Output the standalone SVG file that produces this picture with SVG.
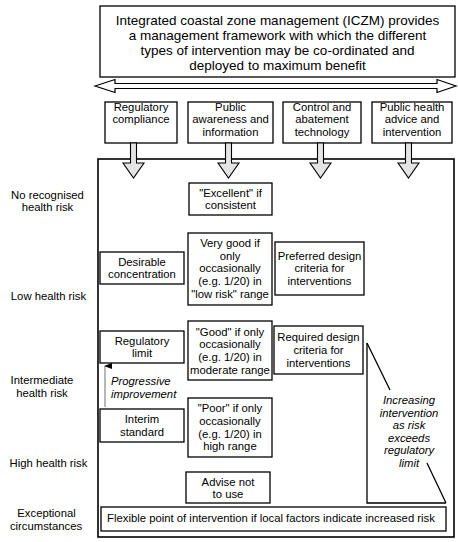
<svg xmlns="http://www.w3.org/2000/svg" width="458" height="542" viewBox="0 0 458 542">
<style>
.bx{fill:#fff;stroke:#000;stroke-width:1.3}
.t{font-family:"Liberation Sans",Arial,sans-serif;font-size:11.3px;fill:#000;text-anchor:middle}
.top{font-size:13.5px}
.it{font-style:italic}
.ha{fill:#e4e4e4;stroke:#000;stroke-width:1.1}
.ln{fill:none;stroke:#000;stroke-width:1.3}
</style>
<defs>
<marker id="ah" markerWidth="6" markerHeight="8" refX="3" refY="1" orient="auto-start-reverse" markerUnits="userSpaceOnUse" viewBox="0 0 6 8">
<path d="M0,8 L3,0 L6,8 Z" fill="#000"/>
</marker>
</defs>
<rect width="458" height="542" fill="#fff"/>

<g id="container"><rect x="98" y="159" width="356" height="378" fill="#fff" stroke="#000" stroke-width="1.6"/></g>

<g id="iczm">
<rect class="bx" x="100" y="6" width="355" height="71" stroke-width="1.5"/>
<text class="t top" x="277.5" y="25.4">Integrated coastal zone management (ICZM) provides</text>
<text class="t top" x="277.5" y="40.2">a management framework with which the different</text>
<text class="t top" x="277.5" y="54.9">types of intervention may be co-ordinated and</text>
<text class="t top" x="277.5" y="69.7">deployed to maximum benefit</text>
</g>

<g id="col-regulatory">
<rect class="bx" x="105" y="102" width="72" height="41"/>
<text class="t" x="141" y="110.7">Regulatory</text>
<text class="t" x="141" y="123.3">compliance</text>
</g>
<g id="col-public">
<rect class="bx" x="188" y="102" width="85" height="41"/>
<text class="t" x="230.5" y="110.7">Public</text>
<text class="t" x="230.5" y="123.3">awareness and</text>
<text class="t" x="230.5" y="136">information</text>
</g>
<g id="col-control">
<rect class="bx" x="283" y="102" width="78" height="41"/>
<text class="t" x="322" y="110.7">Control and</text>
<text class="t" x="322" y="123.3">abatement</text>
<text class="t" x="322" y="136">technology</text>
</g>
<g id="col-health">
<rect class="bx" x="372" y="102" width="80" height="41"/>
<text class="t" x="412" y="110.7">Public health</text>
<text class="t" x="412" y="123.3">advice and</text>
<text class="t" x="412" y="136">intervention</text>
</g>

<g id="risk-labels">
<text class="t" x="47.5" y="199">No recognised</text>
<text class="t" x="47.5" y="211">health risk</text>
<text class="t" x="48.5" y="300">Low health risk</text>
<text class="t" x="42" y="384">Intermediate</text>
<text class="t" x="42" y="396.5">health risk</text>
<text class="t" x="48.5" y="467">High health risk</text>
<text class="t" x="46.5" y="517">Exceptional</text>
<text class="t" x="46" y="530">circumstances</text>
</g>

<g id="excellent">
<rect class="bx" x="189" y="183" width="83" height="32"/>
<text class="t" x="230.5" y="197.3">"Excellent" if</text>
<text class="t" x="230.5" y="209">consistent</text>
</g>
<g id="very-good">
<rect class="bx" x="188" y="233" width="84" height="72"/>
<text class="t" x="230" y="246.7">Very good if</text>
<text class="t" x="230" y="259.5">only</text>
<text class="t" x="230" y="272.2">occasionally</text>
<text class="t" x="230" y="284.9">(e.g. 1/20) in</text>
<text class="t" x="230" y="297.6">"low risk" range</text>
</g>
<g id="desirable">
<rect class="bx" x="100" y="252" width="84" height="32"/>
<text class="t" x="142" y="265.7">Desirable</text>
<text class="t" x="142" y="278.3">concentration</text>
</g>
<g id="preferred">
<rect class="bx" x="275" y="242" width="89" height="53"/>
<text class="t" x="319.5" y="259.7">Preferred design</text>
<text class="t" x="319.5" y="272.4">criteria for</text>
<text class="t" x="319.5" y="285">interventions</text>
</g>
<g id="regulatory-limit">
<rect class="bx" x="100" y="331" width="84" height="32"/>
<text class="t" x="142" y="345">Regulatory</text>
<text class="t" x="142" y="357">limit</text>
</g>
<g id="good">
<rect class="bx" x="188" y="321" width="84" height="59"/>
<text class="t" x="230" y="335.7">"Good" if only</text>
<text class="t" x="230" y="348.4">occasionally</text>
<text class="t" x="230" y="361.1">(e.g. 1/20) in</text>
<text class="t" x="230" y="373.8">moderate range</text>
</g>
<g id="required">
<rect class="bx" x="274" y="326" width="89" height="48"/>
<text class="t" x="318.5" y="341.3">Required design</text>
<text class="t" x="318.5" y="354">criteria for</text>
<text class="t" x="318.5" y="366.7">interventions</text>
</g>
<g id="interim">
<rect class="bx" x="100" y="409" width="84" height="33"/>
<text class="t" x="142" y="423">Interim</text>
<text class="t" x="142" y="435.7">standard</text>
</g>
<g id="poor">
<rect class="bx" x="188" y="398" width="84" height="59"/>
<text class="t" x="230" y="412.3">"Poor" if only</text>
<text class="t" x="230" y="425">occasionally</text>
<text class="t" x="230" y="437.7">(e.g. 1/20) in</text>
<text class="t" x="230" y="450.4">high range</text>
</g>
<g id="advise">
<rect class="bx" x="186" y="472" width="84" height="31"/>
<text class="t" x="228" y="486.3">Advise not</text>
<text class="t" x="228" y="498">to use</text>
</g>
<g id="flexible">
<rect class="bx" x="101" y="507" width="345" height="24"/>
<text class="t" x="271" y="521.7">Flexible point of intervention if local factors indicate increased risk</text>
</g>

<g id="increasing">
<path class="ln" d="M367,343 V503 H446"/>
<path class="ln" d="M367,343 L390,390 M427,463 L446,503"/>
<text class="t it" x="409" y="404">Increasing</text>
<text class="t it" x="409" y="416.5">intervention</text>
<text class="t it" x="409" y="429">as risk</text>
<text class="t it" x="409" y="441.7">exceeds</text>
<text class="t it" x="409" y="454.4">regulatory</text>
<text class="t it" x="409" y="467">limit</text>
</g>

<g id="progressive">
<text class="t it" x="111" y="385" text-anchor="start" style="text-anchor:start">Progressive</text>
<text class="t it" x="111" y="398" style="text-anchor:start">improvement</text>
</g>

<g id="connectors">
<path d="M95,86 L115,79.5 V83.5 H437 V79.5 L456,86 L437,92.5 V88.5 H115 V92.5 Z" fill="#fff" stroke="#000" stroke-width="1.2"/>
<path class="ha" d="M130.5,143 V163 H123 L133.5,178 L144,163 H136.5 V143 Z"/>
<path class="ha" d="M225.5,143 V163 H218 L228.5,178 L239,163 H231.5 V143 Z"/>
<path class="ha" d="M317.5,143 V163 H310 L320.5,178 L331,163 H323.5 V143 Z"/>
<path class="ha" d="M405.5,143 V163 H398 L408.5,178 L419,163 H411.5 V143 Z"/>
<line x1="105" y1="407" x2="105" y2="366" stroke="#888" stroke-width="1.2" marker-end="url(#ah)"/>
</g>
</svg>
